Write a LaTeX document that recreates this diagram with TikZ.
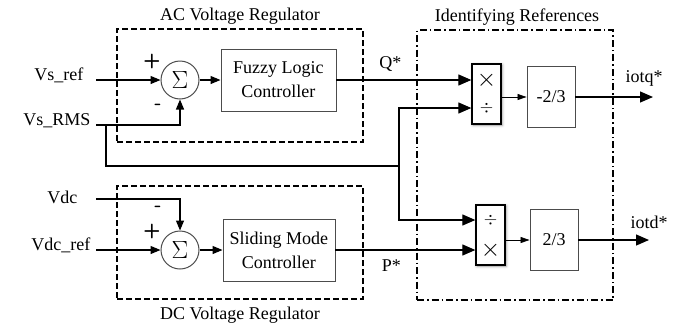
\documentclass[tikz,border=0pt]{standalone}
\usepackage{fontspec}
\setmainfont{Liberation Serif}
\usetikzlibrary{arrows.meta,calc,shapes,positioning,shadows.blur}

\begin{document}
\begin{tikzpicture}[
    x = 1pt, y = -1pt,
    font = \fontsize{18}{20}\selectfont
  ]

  \useasboundingbox (0,0) rectangle (693,327);

  \tikzstyle {every node} = [inner sep = 0]
  \tikzstyle {every path} = [line width = 1.2pt]
  \tikzstyle {blk} = [draw = black!70, line width = 0.9pt, minimum width = 115pt, minimum height = 62pt, align = center, font = \fontsize{18}{24}\selectfont]
  \tikzstyle {kblk} = [blk, minimum width = 48pt, minimum height = 61pt]
  \tikzstyle {mdblk} = [draw, line width = 1.3pt, fill = white, minimum width = 29pt, minimum height = 60pt, blur shadow = {shadow xshift = 1pt, shadow yshift = -1pt, shadow blur radius = 3pt}]
  \tikzstyle {sumblk} = [draw = black!70, line width = 1pt, circle, minimum size = 38pt, font = \fontsize{26}{26}\selectfont]
  \tikzstyle {op} = [font = \fontsize{27}{27}\selectfont]
  \tikzstyle {dv} = [font = \fontsize{17}{17}\selectfont]
  \tikzstyle {sgn} = [font = \sffamily\bfseries\fontsize{20}{20}\selectfont]
  \tikzstyle {lbl} = [anchor = base east]
  \tikzstyle {region} = [draw, line width = 1.5pt, dash pattern = on 6pt off 3pt]
  \tikzstyle {regiondd} = [draw, line width = 1.5pt, dash pattern = on 7pt off 3pt on 1.5pt off 3pt]
  \tikzstyle {arr} = [-{Triangle[length = 10pt, width = 8pt]}]
  \tikzstyle {bigarr} = [-{Triangle[length = 13pt, width = 11pt]}]
  \tikzstyle {smallarr} = [line width = 0.8pt, -{Triangle[length = 9pt, width = 6pt]}]

  % regulator regions
  \node [region, minimum width = 246pt, minimum height = 113pt] (acreg) at (240,85.5) {};
  \node [region, minimum width = 246pt, minimum height = 113pt] (dcreg) at (240,242.5) {};
  \node [regiondd, minimum width = 196pt, minimum height = 270pt] (irreg) at (515,165) {};
  \node [anchor = base] (actitle) at (240,20) {AC Voltage Regulator};
  \node [anchor = base] (dctitle) at (240,319) {DC Voltage Regulator};
  \node [anchor = base] (irtitle) at (517,21) {Identifying References};

  \node [sumblk] (sum1) at (180,80) {$\Sigma$};
  \node [blk, right = 21pt of sum1] (flc) {Fuzzy Logic\\Controller};
  \node [sumblk] (sum2) at (180,250) {$\Sigma$};
  \node [blk, right = 23pt of sum2, minimum width = 112pt] (smc) {Sliding Mode\\Controller};

  \node [sgn] (p1) at (152,61) {+};
  \node [sgn] (m1) at (158,107) {-};
  \node [sgn] (m2) at (158,209) {-};
  \node [sgn] (p2) at (152,231) {+};

  \node [mdblk] (md1) at (486.5,94) {};
  \node [op] (md1x) at ($(md1.center)+(0,-14)$) {$\times$};
  \node [dv] (md1d) at ($(md1.center)+(0,14)$) {$\div$};
  \node [kblk] (k1) at (551,97) {-2/3};
  \node [mdblk] (md2) at (490.5,235) {};
  \node [dv] (md2d) at ($(md2.center)+(0,-15)$) {$\div$};
  \node [op] (md2x) at ($(md2.center)+(0,15)$) {$\times$};
  \node [kblk] (k2) at (554,240) {2/3};

  % inputs
  \coordinate (vsref) at (96,80);
  \coordinate (vsrms) at (96,125);
  \coordinate (vdc) at (96,199);
  \coordinate (vdcref) at (96,250);
  \node [lbl] (lvsref) at (84,80) {Vs\_ref};
  \node [lbl] (lvsrms) at (91,125) {Vs\_RMS};
  \node [lbl] (lvdc) at (78,203) {Vdc};
  \node [lbl] (lvdcref) at (91,250) {Vdc\_ref};

  \draw [arr] (vsref) -- (sum1);
  \draw [arr] (vsrms) -| (sum1.south);
  \draw [arr] (vdc) -| (sum2.north);
  \draw [arr] (vdcref) -- (sum2);
  \draw [arr] (sum1) -- (flc);
  \draw [arr] (sum2) -- (smc);

  % RMS bus to the dividers
  \coordinate (br1) at (106,125);
  \coordinate (br2) at (399,166);
  \draw (br1) |- (br2);
  \draw [bigarr] (br2) |- ($(md1.west)+(0,14)$);
  \draw [bigarr] (br2) |- ($(md2.west)+(0,-15)$);

  \draw [bigarr] (flc.east) -- (flc.east -| md1.west) node [pos = 0.4, above = 8pt] (lq) {Q*};
  \draw [bigarr] (smc.east) -- (smc.east -| md2.west) node [pos = 0.4, below = 9pt] (lp) {P*};

  \draw [smallarr] (md1.east |- k1.west) -- (k1.west);
  \draw [smallarr] (md2.east |- k2.west) -- (k2.west);

  % outputs
  \coordinate (outq) at (653,97);
  \coordinate (outd) at (649,240);
  \draw [bigarr] (k1) -- (outq);
  \draw [bigarr] (k2) -- (outd);
  \node [anchor = base west] (liotq) at (625,82) {iotq*};
  \node [anchor = base west] (liotd) at (630,228) {iotd*};
\end{tikzpicture}
\end{document}
